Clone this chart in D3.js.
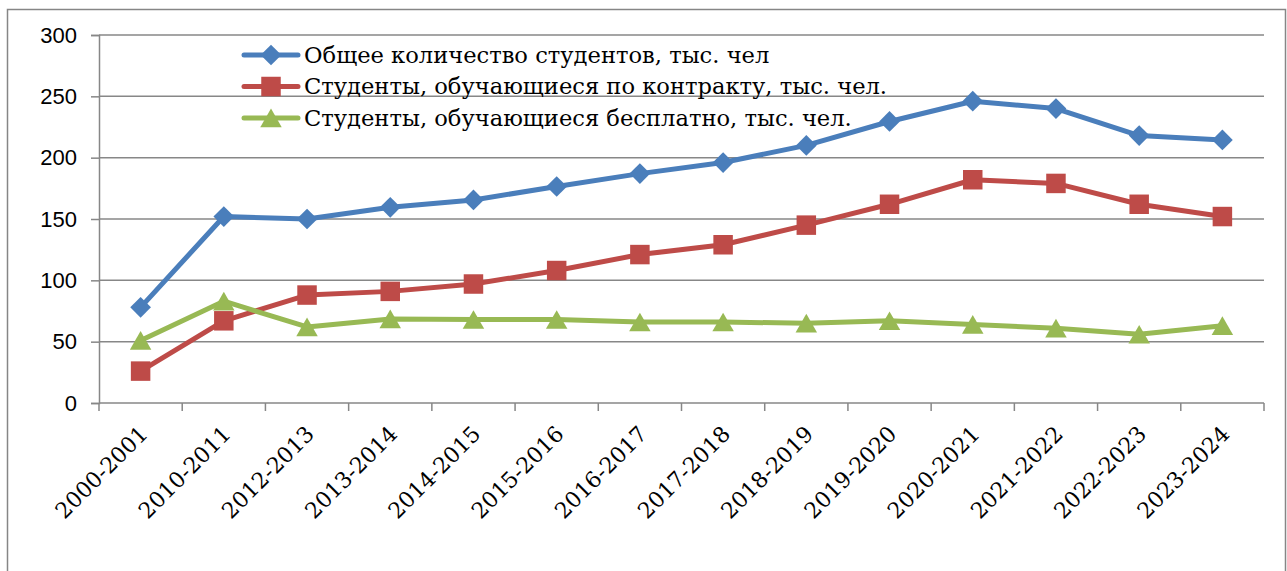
<!DOCTYPE html>
<meta charset="utf-8">
<script src="https://d3js.org/d3.v7.min.js"></script>
<style>
  body { margin: 0; background: #fff; }
  .ylab { font-family: "Liberation Sans", Arial, sans-serif; font-size: 22px; }
  .serif { font-family: "DejaVu Serif", serif; }
</style>
<div id="chart"></div>
<script>
// data
var years = ["2000-2001", "2010-2011", "2012-2013", "2013-2014", "2014-2015", "2015-2016",
  "2016-2017", "2017-2018", "2018-2019", "2019-2020", "2020-2021", "2021-2022", "2022-2023", "2023-2024"];
var total = [78, 152, 150, 159.5, 165.5, 176.5, 187, 196, 210, 229.5, 246, 240, 218, 214.5];
var contract = [26, 67, 88, 91, 97, 108, 121, 129, 145, 162, 182, 179, 162, 152];
var free = [51, 83, 62, 68.5, 68, 68, 66, 66, 65, 67, 64, 61, 56, 63];
var yTicks = [0, 50, 100, 150, 200, 250, 300];
var seriesNames = ["Общее количество студентов, тыс. чел",
  "Студенты, обучающиеся по контракту, тыс. чел.",
  "Студенты, обучающиеся бесплатно, тыс. чел."];

var W = 1287, H = 571;
var margin = {top: 35, right: 23, bottom: 168, left: 99};
var width = W - margin.left - margin.right,
    height = H - margin.top - margin.bottom;

var svg = d3.select("#chart").append("svg")
  .attr("width", W).attr("height", H);

// outer frame
svg.append("rect")
  .attr("x", 7.5).attr("y", 9.5)
  .attr("width", 1278).attr("height", 600)
  .attr("fill", "none").attr("stroke", "#868686").attr("stroke-width", 1.5);

var g = svg.append("g")
  .attr("transform", "translate(" + margin.left + "," + margin.top + ")");

var x = d3.scaleBand().domain(years).range([0, width]);
var y = d3.scaleLinear().domain([0, 300]).range([height, 0]);

// gridlines
g.selectAll(".grid").data(yTicks.slice(1)).enter().append("line")
  .attr("x1", 0).attr("x2", width)
  .attr("y1", function(d) { return y(d); }).attr("y2", function(d) { return y(d); })
  .attr("stroke", "#878787").attr("stroke-width", 1.5);

// y axis
var yAxis = g.append("g")
  .call(d3.axisLeft(y).tickValues(yTicks).tickSize(8).tickPadding(14))
  .attr("font-family", null).attr("font-size", null);
yAxis.select(".domain").attr("stroke", "#878787").attr("stroke-width", 1.5);
yAxis.selectAll(".tick line").attr("stroke", "#878787").attr("stroke-width", 1.5);
yAxis.selectAll("text")
  .attr("class", "ylab")
  .attr("fill", "#000");

// x axis with ticks between categories
var xAxis = g.append("g").attr("transform", "translate(0," + height + ")");
xAxis.append("line").attr("x1", 0).attr("x2", width)
  .attr("stroke", "#878787").attr("stroke-width", 1.5);
var bounds = years.map(function(d) { return x(d); }).concat([width]);
xAxis.selectAll(".xt").data(bounds).enter().append("line")
  .attr("x1", function(d) { return d; }).attr("x2", function(d) { return d; })
  .attr("y1", 0).attr("y2", 8)
  .attr("stroke", "#878787").attr("stroke-width", 1.5);
xAxis.selectAll(".xl").data(years).enter().append("text")
  .attr("class", "serif")
  .attr("transform", function(d) {
    return "translate(" + (x(d) + x.bandwidth() / 2 + 3) + ",27) rotate(-45)";
  })
  .attr("text-anchor", "end")
  .attr("dy", "0.35em")
  .style("font-size", "22px")
  .text(function(d) { return d; });

var colors = ["#4a7ebb", "#be4b48", "#98b954"];
var allSeries = [total, contract, free];

// marker shapes: diamond (rotated square), square, triangle centred on its box
var square = d3.symbol().type(d3.symbolSquare);
var tri = d3.symbol().type(d3.symbolTriangle).size(200);
function markerPath(s) {
  return s == 0 ? square.size(215)() : s == 1 ? square.size(380)() : tri();
}
function markerTransform(s) {
  return s == 0 ? " rotate(45)" : s == 2 ? " translate(0,3)" : "";
}

var line = d3.line()
  .x(function(d, i) { return x(years[i]) + x.bandwidth() / 2; })
  .y(function(d) { return y(d); });

allSeries.forEach(function(vals, s) {
  g.append("path")
    .attr("fill", "none")
    .attr("stroke", colors[s])
    .attr("stroke-width", 5)
    .attr("stroke-linejoin", "round")
    .attr("d", line(vals));
  g.selectAll(".m" + s).data(vals).enter().append("path")
    .attr("transform", function(d, i) {
      return "translate(" + (x(years[i]) + x.bandwidth() / 2) + "," + y(d) + ")" + markerTransform(s);
    })
    .attr("d", markerPath(s))
    .attr("fill", colors[s]);
});

// legend
var legend = svg.append("g").attr("transform", "translate(244,55)");
seriesNames.forEach(function(name, s) {
  var row = legend.append("g").attr("transform", "translate(0," + (s * 31.5) + ")");
  row.append("line").attr("x1", 0).attr("x2", 54)
    .attr("stroke", colors[s]).attr("stroke-width", 5).attr("stroke-linecap", "round");
  row.append("path")
    .attr("transform", "translate(27,0)" + markerTransform(s))
    .attr("d", markerPath(s))
    .attr("fill", colors[s]);
  row.append("text")
    .attr("class", "serif")
    .attr("x", 60).attr("dy", "0.35em")
    .style("font-size", "22.6px")
    .text(name);
});
</script>
